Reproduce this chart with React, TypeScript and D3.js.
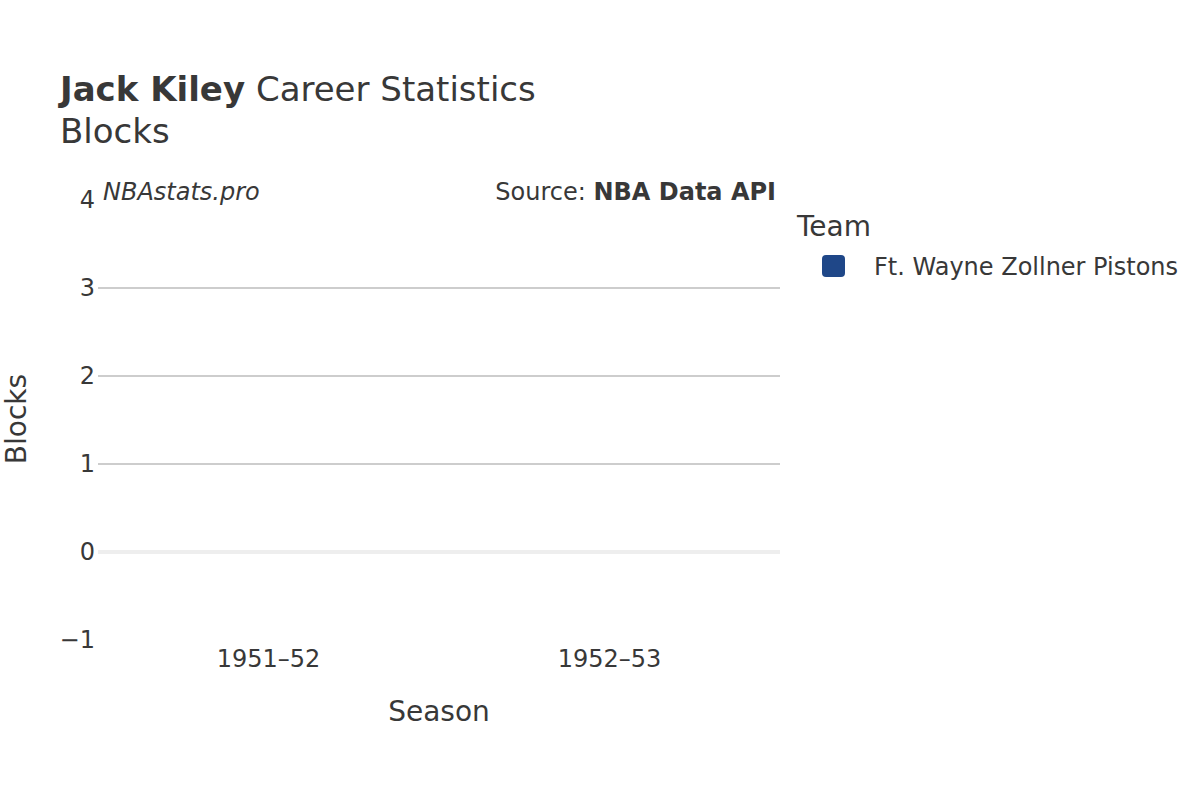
import React from "react";
import * as d3 from "d3";

const seasons = ["1951–52", "1952–53"];
const blocks = [0, 0];
const yTicks = [-1, 0, 1, 2, 3, 4];
const gridTicks = [1, 2, 3];
const teamName = "Ft. Wayne Zollner Pistons";
const teamColor = "#1f4788";

const W = 1200;
const H = 800;
const FONT = "'DejaVu Sans', sans-serif";
const TXT = "#383838";

export default function App() {
  const x = d3.scaleBand<string>().domain(seasons).range([98, 780]);
  const y = d3.scaleLinear().domain([-1, 4]).range([640, 200]);

  return (
    <svg width={W} height={H} style={{ position: "absolute", left: 0, top: 0, background: "#fff" }} fontFamily={FONT}>
      <rect width={W} height={H} fill="#fff" />
      {/* title */}
      <text x={60} y={101} fontSize={34} fill={TXT}>
        <tspan fontWeight="bold">Jack Kiley</tspan>
        <tspan> Career Statistics</tspan>
      </text>
      <text x={60} y={143} fontSize={34} fill={TXT}>Blocks</text>

      {/* gridlines */}
      {gridTicks.map((t) => (
        <line key={t} x1={98} x2={780} y1={y(t)} y2={y(t)} stroke="#bdbdbd" strokeWidth={1.5} />
      ))}
      <line x1={98} x2={780} y1={y(0)} y2={y(0)} stroke="#eeeeee" strokeWidth={4} />

      {/* bars (all zero) */}
      {seasons.map((s, i) => (
        <rect
          key={s}
          x={(x(s) ?? 0) + x.bandwidth() * 0.1}
          width={x.bandwidth() * 0.8}
          y={Math.min(y(blocks[i]), y(0))}
          height={Math.abs(y(blocks[i]) - y(0))}
          fill={teamColor}
        />
      ))}

      {/* y ticks */}
      {yTicks.map((t) => (
        <text key={t} x={95} y={y(t)} dy="0.35em" textAnchor="end" fontSize={24} fill={TXT}>
          {t < 0 ? "\u2212" + Math.abs(t) : t}
        </text>
      ))}
      {/* x ticks */}
      {seasons.map((s) => (
        <text key={s} x={(x(s) ?? 0) + x.bandwidth() / 2} y={667} textAnchor="middle" fontSize={24} fill={TXT}>
          {s}
        </text>
      ))}

      {/* axis titles */}
      <text x={439} y={721} textAnchor="middle" fontSize={28} fill={TXT}>Season</text>
      <text transform={`translate(26,419) rotate(-90)`} textAnchor="middle" fontSize={28} fill={TXT}>Blocks</text>

      {/* annotations */}
      <text x={103} y={200} fontSize={24} fontStyle="italic" fill={TXT}>NBAstats.pro</text>
      <text x={776} y={200} fontSize={24} textAnchor="end" fill={TXT}>
        <tspan>Source: </tspan>
        <tspan fontWeight="bold">NBA Data API</tspan>
      </text>

      {/* legend */}
      <text x={797} y={236} fontSize={28} fill={TXT}>Team</text>
      <rect x={822} y={255} width={23} height={22} rx={4} fill={teamColor} />
      <text x={874} y={275} fontSize={24} fill={TXT}>{teamName}</text>
    </svg>
  );
}
